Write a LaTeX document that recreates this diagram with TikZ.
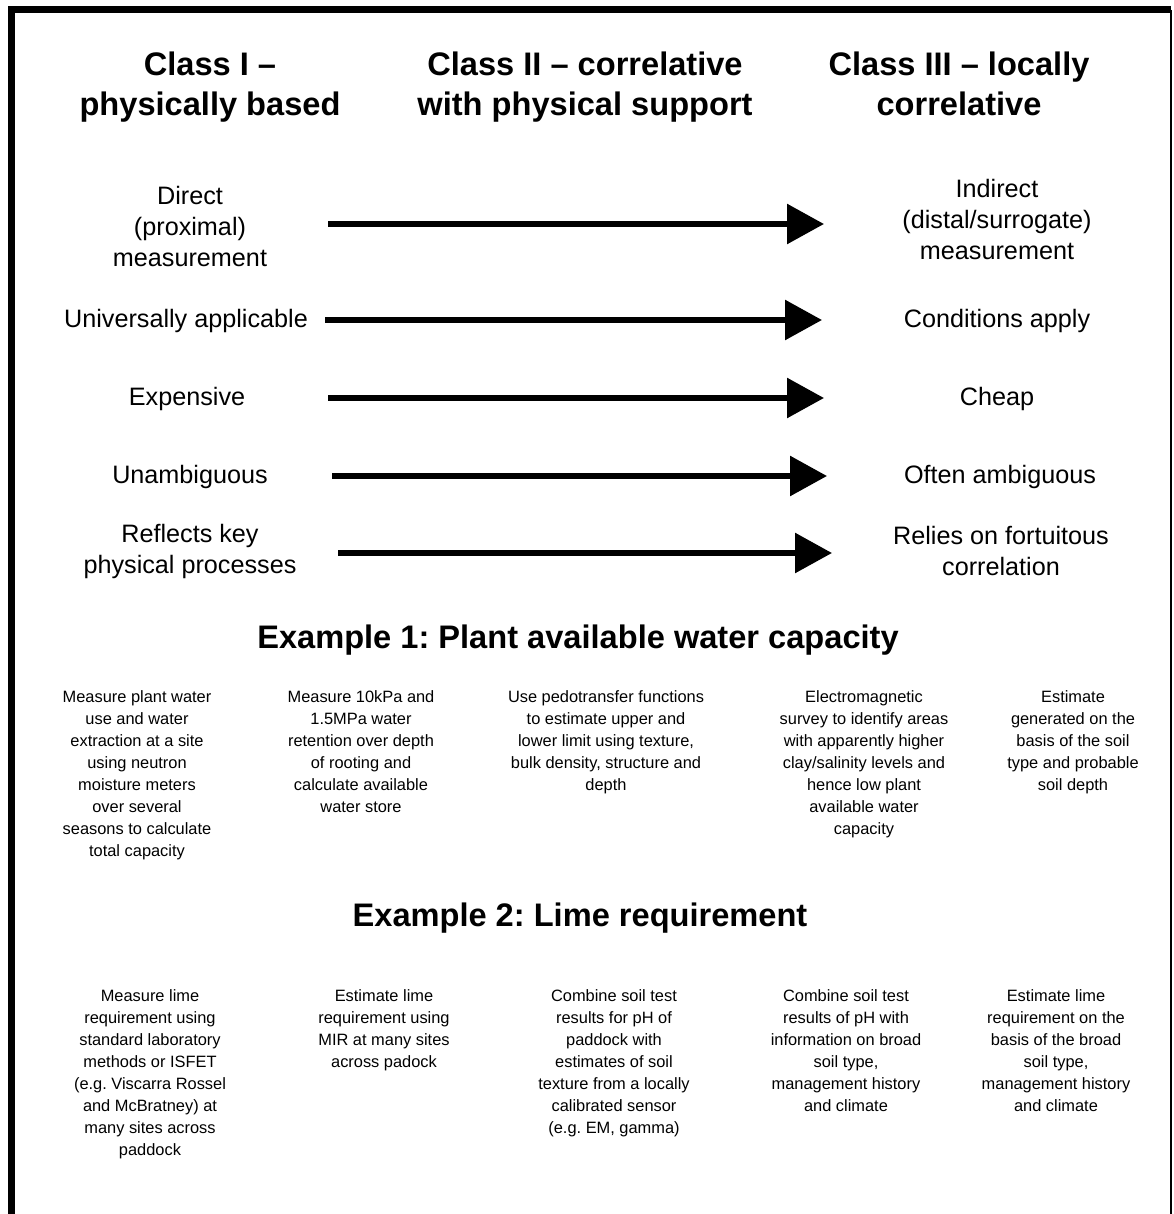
\documentclass[tikz,border=0pt]{standalone}
\usepackage{fontspec}
\setmainfont{Liberation Sans}
\usetikzlibrary{arrows.meta}
\frenchspacing

\tikzset{
    classhead/.style={font=\fontsize{16.3}{20}\selectfont\bfseries, align=center, inner sep=0pt, anchor=north},
    examplehead/.style={font=\fontsize{16.3}{20}\selectfont\bfseries, inner sep=0pt},
    trait/.style={font=\fontsize{12.6}{15.5}\selectfont, align=center, inner sep=0pt},
    method/.style={font=\fontsize{8.2}{11}\selectfont, align=center, inner sep=0pt, anchor=north},
    trend/.style={line width=3pt, -{Triangle[length=18.5pt, width=19.5pt]}}
}

\begin{document}
\begin{tikzpicture}[x=0.5pt, y=-0.5pt]
        \useasboundingbox (0, 0) rectangle (1173, 1214);
        % frame
        \draw[line width=3.5pt] (11.5, 1214) -- (11.5, 10) -- (1171, 10);
        \draw[line width=1pt] (1171, 10) -- (1171, 1214);

        % class headings
        \node[classhead] (class1) at (210, 51) {Class I --\\physically based};
        \node[classhead] (class2) at (585, 51) {Class II -- correlative\\with physical support};
        \node[classhead] (class3) at (959, 51) {Class III -- locally\\correlative};

        % left and right properties
        \node[trait] (direct) at (190, 226) {Direct\\(proximal)\\measurement};
        \node[trait] (indirect) at (997, 219) {Indirect\\(distal/surrogate)\\measurement};
        \node[trait] (universal) at (186, 321) {Universally applicable};
        \node[trait] (conditions) at (997, 321) {Conditions apply};
        \node[trait] (expensive) at (187, 399) {Expensive};
        \node[trait] (cheap) at (997, 399) {Cheap};
        \node[trait] (unambig) at (190, 477) {Unambiguous};
        \node[trait] (ambig) at (1000, 477) {Often ambiguous};
        \node[trait] (reflects) at (190, 551) {Reflects key\\physical processes};
        \node[trait] (relies) at (1001, 551) {Relies on fortuitous\\correlation};

        % arrows
        \coordinate (a1s) at (328, 224);
        \coordinate (a1e) at (824, 224);
        \coordinate (a2s) at (325, 320);
        \coordinate (a2e) at (822, 320);
        \coordinate (a3s) at (328, 398);
        \coordinate (a3e) at (824, 398);
        \coordinate (a4s) at (332, 476);
        \coordinate (a4e) at (827, 476);
        \coordinate (a5s) at (338, 553);
        \coordinate (a5e) at (832, 553);
        \draw[trend] (a1s) -- (a1e);
        \draw[trend] (a2s) -- (a2e);
        \draw[trend] (a3s) -- (a3e);
        \draw[trend] (a4s) -- (a4e);
        \draw[trend] (a5s) -- (a5e);

        % example 1
        \node[examplehead] (ex1) at (578, 640) {Example 1: Plant available water capacity};
        \node[method] (ex1a) at (137, 690) {Measure plant water\\use and water\\extraction at a site\\using neutron\\moisture meters\\over several\\seasons to calculate\\total capacity};
        \node[method] (ex1b) at (361, 690) {Measure 10kPa and\\1.5MPa water\\retention over depth\\of rooting and\\calculate available\\water store};
        \node[method] (ex1c) at (606, 690) {Use pedotransfer functions\\to estimate upper and\\lower limit using texture,\\bulk density, structure and\\depth};
        \node[method] (ex1d) at (864, 690) {Electromagnetic\\survey to identify areas\\with apparently higher\\clay/salinity levels and\\hence low plant\\available water\\capacity};
        \node[method] (ex1e) at (1073, 690) {Estimate\\generated on the\\basis of the soil\\type and probable\\soil depth};

        % example 2
        \node[examplehead] (ex2) at (580, 918) {Example 2: Lime requirement};
        \node[method] (ex2a) at (150, 989) {Measure lime\\requirement using\\standard laboratory\\methods or ISFET\\(e.g. Viscarra Rossel\\and McBratney) at\\many sites across\\paddock};
        \node[method] (ex2b) at (384, 989) {Estimate lime\\requirement using\\MIR at many sites\\across padock};
        \node[method] (ex2c) at (614, 989) {Combine soil test\\results for pH of\\paddock with\\estimates of soil\\texture from a locally\\calibrated sensor\\(e.g. EM, gamma)};
        \node[method] (ex2d) at (846, 989) {Combine soil test\\results of pH with\\information on broad\\soil type,\\management history\\and climate};
        \node[method] (ex2e) at (1056, 989) {Estimate lime\\requirement on the\\basis of the broad\\soil type,\\management history\\and climate};
    \end{tikzpicture}
\end{document}
